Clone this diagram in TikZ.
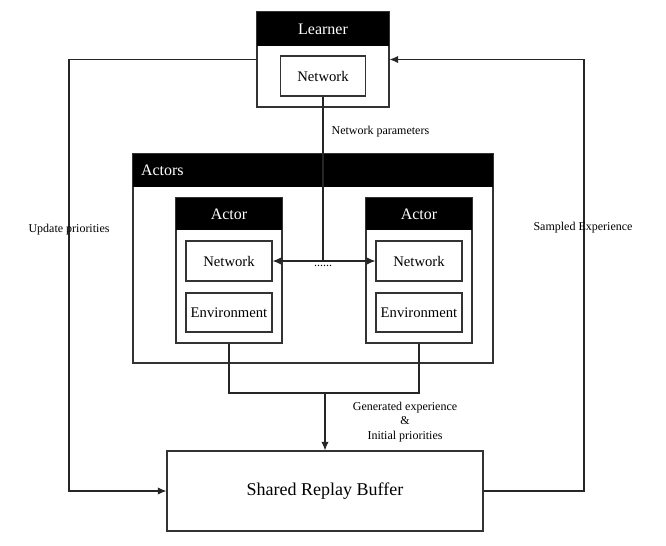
\documentclass[tikz,border=0pt]{standalone}
\usepackage{fontspec}
\setmainfont{Liberation Serif}
\usetikzlibrary{positioning,arrows.meta}

\begin{document}
\begin{tikzpicture}
  [
    x=0.75pt, y=-0.75pt,
    >={Latex[length=6.5pt,width=5.5pt]},
    frame/.style={draw=black!80, line width=0.8pt, rectangle, inner sep=0pt},
    header/.style={fill=black, text=white, rectangle, inner sep=0pt, font=\fontsize{12}{14}\selectfont},
    inbox/.style={draw=black!80, line width=0.8pt, rectangle, minimum width=64.5pt, minimum height=30pt, inner sep=0pt, font=\fontsize{11}{13}\selectfont},
    lbl/.style={font=\fontsize{9}{11}\selectfont, inner sep=1pt},
    link/.style={draw=black!85, line width=0.8pt},
  ]
  \useasboundingbox (0,0) rectangle (666,545);

  % learner
  \node (learner) [frame, minimum width=99pt, minimum height=71.25pt] at (323,59.5) {};
  \node (lhead) [header, minimum width=99pt, minimum height=25.5pt] at (323,29) {Learner};
  \node (lnet) [inbox, minimum width=63.75pt] at (323,76) {Network};

  % actors
  \node (actors) [frame, minimum width=270pt, minimum height=156.75pt] at (313,258.5) {};
  \node (ahead) [header, text width=258pt, inner xsep=6pt, minimum height=24.75pt, align=left] at (313,170.5) {Actors};

  \node (a1) [frame, minimum width=79.5pt, minimum height=108.75pt] at (229,270.5) {};
  \node (a1head) [header, minimum width=79.5pt, minimum height=24pt] at (229,214) {Actor};
  \node (a1net) [inbox] at (229,261) {Network};
  \node (a1env) [inbox, minimum height=29.25pt] at (229,312.5) {Environment};

  \node (a2) [frame, minimum width=79.5pt, minimum height=108.75pt] at (419,270.5) {};
  \node (a2head) [header, minimum width=79.5pt, minimum height=24pt] at (419,214) {Actor};
  \node (a2net) [inbox] at (419,261) {Network};
  \node (a2env) [inbox, minimum height=29.25pt] at (419,312.5) {Environment};

  % buffer
  \node (buffer) [frame, minimum width=237pt, minimum height=60pt, font=\fontsize{13.5}{16}\selectfont] at (325,491) {Shared Replay Buffer};

  \coordinate (hub) at (lnet.south |- a1net.east);
  \coordinate (merge) at (325,393);
  \coordinate (ul) at (69,59.5);
  \coordinate (ll) at (69,491);
  \coordinate (ur) at (584,59.5);
  \coordinate (lr) at (584,491);

  \node (dots) [lbl, below=2pt of hub] {......};

  \draw [link] (lnet) -- (hub);
  \draw [link,->] (hub) -- (a1net);
  \draw [link,->] (hub) -- (a2net);

  \draw [link] (a1.south) |- (merge) -| (a2.south);
  \draw [link,->] (merge) -- (buffer);

  \draw [link,->] (learner.west) -- (ul) -- (ll) -- (buffer.west);
  \draw [link,->] (buffer.east) -- (lr) -- (ur) -- (learner.east);

  \node (np) [lbl, anchor=west] at (330,132) {Network parameters};
  \node (ge) [lbl, align=center] at (405,422) {Generated experience\\\&\\Initial priorities};
  \node (up) [lbl] at (69,230) {Update priorities};
  \node (se) [lbl] at (583,228) {Sampled Experience};
\end{tikzpicture}
\end{document}
